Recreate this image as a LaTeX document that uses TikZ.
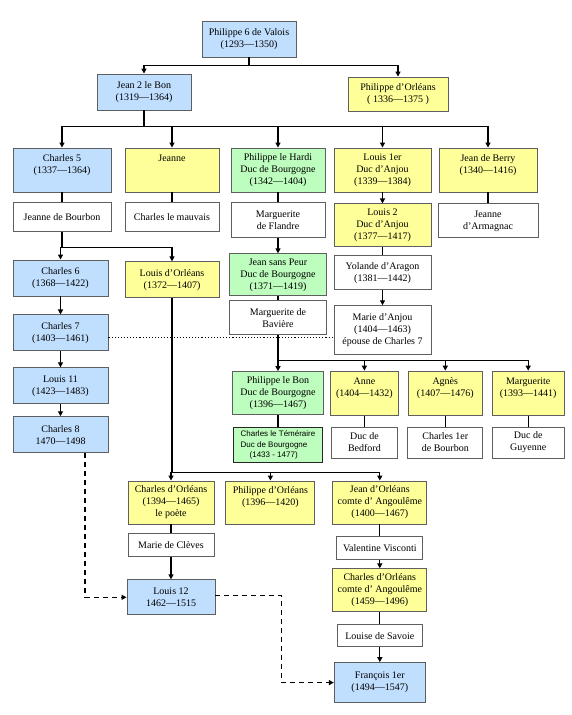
\documentclass[tikz,border=0pt]{standalone}
\usepackage{fontspec}
\setmainfont{Liberation Serif}
\setsansfont{Liberation Sans}
\usetikzlibrary{positioning,arrows.meta}
\definecolor{royBlue}{HTML}{C0DEFE}
\definecolor{royYellow}{HTML}{FFFF99}
\definecolor{royGreen}{HTML}{BDFDBD}
\definecolor{royEdge}{HTML}{5F5F5F}
\tikzset{
  person/.style={draw=royEdge,line width=0.9pt,inner sep=1pt,align=center},
  wh/.style 2 args={minimum width=#1pt,minimum height=#2pt},
  kingbox/.style={person,fill=royBlue},
  yellowbox/.style={person,fill=royYellow},
  greenbox/.style={person,fill=royGreen},
  spousebox/.style={person,fill=white},
  link/.style={line width=1.3pt,draw=black},
  arrow/.style={link,-{Triangle[length=5pt,width=5pt]}},
  dasharrow/.style={arrow,dash pattern=on 5pt off 4pt},
  dotlink/.style={line width=1.1pt,dotted}
}

\begin{document}
\begin{tikzpicture}[x=1pt,y=-1pt]
  \useasboundingbox (0,0) rectangle (572,715);

  % Valois, first generations
  \node[kingbox, wh={94}{36}] (valois) at (249,39) {Philippe 6 de Valois\\(1293—1350)};
  \node[kingbox, wh={94}{36}] (jean2) at (144,92) {Jean 2 le Bon\\(1319—1364)};
  \node[yellowbox, wh={100}{34}] (phorl) at (398,94) {Philippe d’Orléans\\( 1336—1375 )};

  \node[kingbox, wh={98}{44}] (charles5) at (62,170) {Charles 5\\(1337—1364)\\~};
  \node[yellowbox, wh={94}{44}] (jeanne) at (172,170) {Jeanne\\~\\~};
  \node[greenbox, wh={94}{44}] (hardi) at (278,170) {Philippe le Hardi\\Duc de Bourgogne\\(1342—1404)};
  \node[yellowbox, wh={97}{44}] (louis1) at (382.5,170) {Louis 1er\\Duc d'Anjou\\(1339—1384)};
  \node[yellowbox, wh={98}{44}] (berry) at (488,170) {Jean de Berry\\(1340—1416)\\~};

  \node[spousebox, wh={98}{29}, below=10pt of charles5] (jbourbon) {Jeanne de Bourbon};
  \node[spousebox, wh={94}{29}, below=10pt of jeanne] (mauvais) {Charles le mauvais};
  \node[spousebox, wh={94}{35}, below=10pt of hardi] (mflandre) {Marguerite\\de Flandre};
  \node[yellowbox, wh={97}{43}, below=11pt of louis1] (louis2) {Louis 2\\Duc d'Anjou\\(1377—1417)};
  \node[spousebox, wh={100}{34}, below=11pt of berry] (armagnac) {Jeanne\\d'Armagnac};

  % kings line
  \node[kingbox, wh={95}{36}] (charles6) at (60.5,278) {Charles 6\\(1368—1422)};
  \node[kingbox, wh={95}{36}, below=18pt of charles6] (charles7) {Charles 7\\(1403—1461)};
  \node[kingbox, wh={95}{36}, below=16pt of charles7] (louis11) {Louis 11\\(1423—1483)};
  \node[kingbox, wh={95}{36}, below=12pt of louis11] (charles8) {Charles 8\\1470—1498};
  \node[yellowbox, wh={94}{36}, below=29pt of mauvais] (lorleans) {Louis d’Orléans\\(1372—1407)};

  % Bourgogne and Anjou
  \node[greenbox, wh={97}{42}, below=15pt of mflandre] (sanspeur) {Jean sans Peur\\Duc de Bourgogne\\(1371—1419)};
  \node[spousebox, wh={97}{34}, below=4pt of sanspeur] (mbaviere) {Marguerite de\\Bavière};
  \node[spousebox, wh={97}{34}, below=8pt of louis2] (yolande) {Yolande d’Aragon\\(1381—1442)};
  \node[spousebox, wh={97}{49}, below=15pt of yolande] (manjou) {Marie d’Anjou\\(1404—1463)\\épouse de Charles 7};

  \node[greenbox, wh={91}{43}, below=36pt of mbaviere] (plebon) {Philippe le Bon\\Duc de Bourgogne\\(1396—1467)};
  \node[yellowbox, wh={68}{44}, right=6pt of plebon] (anne) {Anne\\(1404—1432)\\~};
  \node[yellowbox, wh={74}{44}, right=9pt of anne] (agnes) {Agnès\\(1407—1476)\\~};
  \node[yellowbox, wh={72}{44}, right=9pt of agnes] (marguerite) {Marguerite\\(1393—1441)\\~};

  \node[greenbox, draw=black!85, wh={89}{35}, align=left,
    font=\sffamily\fontsize{8}{10.5}\selectfont, below=12pt of plebon] (temeraire)
    {Charles le Téméraire\\Duc de Bourgogne\\\hspace*{9pt}(1433 - 1477)};
  \node[spousebox, wh={66}{31}, below=11pt of anne] (bedford) {Duc de\\Bedford};
  \node[spousebox, wh={75}{31}, below=11pt of agnes] (cbourbon) {Charles 1er\\de Bourbon};
  \node[spousebox, wh={72}{31}, below=11pt of marguerite] (guyenne) {Duc de\\Guyenne};

  % Orleans branch
  \node[yellowbox, wh={86}{43}] (cpoete) at (171,502.5) {Charles d’Orléans\\(1394—1465)\\le poète};
  \node[yellowbox, wh={89}{43}, right=11pt of cpoete] (phorl2) {Philippe d’Orléans\\(1396—1420)\\~};
  \node[yellowbox, wh={94}{43}, right=17pt of phorl2] (jorleans) {Jean d’Orléans\\comte d’ Angoulême\\(1400—1467)};
  \node[spousebox, wh={86}{23}, below=9pt of cpoete] (cleves) {Marie de Clèves};
  \node[kingbox, wh={88}{35}, below=22pt of cleves] (louis12) {Louis 12\\1462—1515};
  \node[spousebox, wh={86}{23}, below=12pt of jorleans] (visconti) {Valentine Visconti};
  \node[yellowbox, wh={94}{43}, below=8pt of visconti] (cangouleme) {Charles d’Orléans\\comte d’ Angoulême\\(1459—1496)};
  \node[spousebox, wh={85}{22}, below=12pt of cangouleme] (savoie) {Louise de Savoie};
  \node[kingbox, wh={91}{40}, below=15pt of savoie] (francois) {François 1er\\(1494—1547)};

  % children
  \draw[arrow] (valois.south) -- ++(0,8) -| (jean2.north);
  \draw[arrow] (valois.south) -- ++(0,8) -| (phorl.north);
  \foreach \kid in {charles5,jeanne,hardi,louis1,berry}
    \draw[arrow] (jean2.south) -- ++(0,16) -| (\kid.north);
  \foreach \kid in {charles6,lorleans}
    \draw[arrow] (jbourbon.south) -- ++(0,15) -| (\kid.north);
  \foreach \kid in {anne,agnes,marguerite}
    \draw[arrow] (mbaviere.south) -- ++(0,25) -| (\kid.north);
  \foreach \kid in {cpoete,phorl2,jorleans}
    \draw[arrow] (lorleans.south) -- ++(0,174) -| (\kid.north);
  \foreach \a/\b in {louis1/louis2,mflandre/sanspeur,yolande/manjou,charles6/charles7,
      charles7/louis11,louis11/charles8,mbaviere/plebon,cleves/louis12,
      visconti/cangouleme,savoie/francois}
    \draw[arrow] (\a) -- (\b);

  % marriages
  \foreach \a/\b in {charles5/jbourbon,jeanne/mauvais,hardi/mflandre,berry/armagnac,
      louis2/yolande,sanspeur/mbaviere,plebon/temeraire,anne/bedford,agnes/cbourbon,
      marguerite/guyenne,cpoete/cleves,jorleans/visconti,cangouleme/savoie}
    \draw[link] (\a) -- (\b);
  \coordinate (c7) at ([yshift=-5pt]charles7.east);
  \draw[dotlink] (c7) -- (c7 -| manjou.west);

  % succession
  \draw[dasharrow] ([xshift=24.5pt]charles8.south) |- (louis12.west);
  \draw[dasharrow] ([yshift=2pt]louis12.east) -- ++(66,0) |- (francois.west);
\end{tikzpicture}
\end{document}
